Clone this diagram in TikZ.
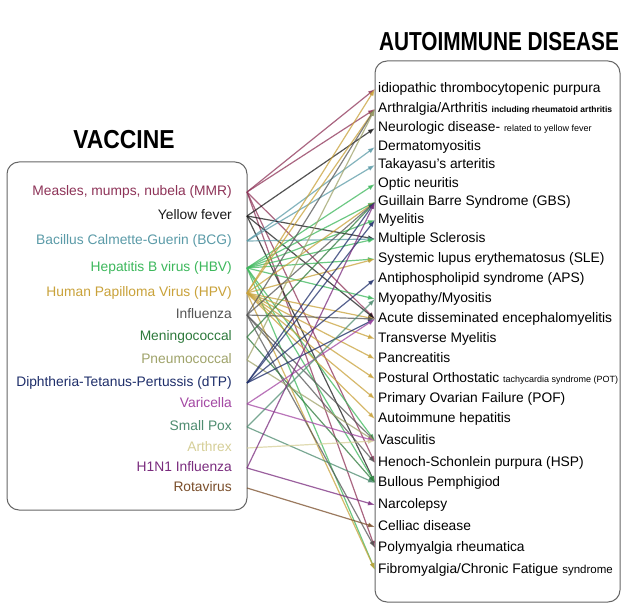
\documentclass[tikz,border=0pt]{standalone}
\usepackage{fontspec}
\setmainfont{Liberation Sans}
\usepackage{graphicx}
\usetikzlibrary{arrows.meta}

\definecolor{cmmr}{HTML}{8E3358}
\definecolor{cyf}{HTML}{1A1A1A}
\definecolor{cbcg}{HTML}{5B9BA8}
\definecolor{chbv}{HTML}{3DB85C}
\definecolor{chpv}{HTML}{C9A23A}
\definecolor{cflu}{HTML}{555555}
\definecolor{cmen}{HTML}{2E7A3C}
\definecolor{cpneu}{HTML}{9FA36A}
\definecolor{cdtp}{HTML}{1E2E6A}
\definecolor{cvari}{HTML}{A347A3}
\definecolor{cpox}{HTML}{4E8C70}
\definecolor{carx}{HTML}{D6CF98}
\definecolor{chini}{HTML}{7A2C7E}
\definecolor{crota}{HTML}{7A4E2A}

\begin{document}
\begin{tikzpicture}[x=1pt,y=-1pt,
    vac/.style={anchor=east,inner xsep=15pt,inner ysep=0pt,text height=10pt,text depth=3pt,font=\fontsize{13.8}{15}\selectfont},
    dis/.style={anchor=west,inner xsep=3pt,inner ysep=0pt,text height=10pt,text depth=3pt,font=\fontsize{13.8}{15}\selectfont},
    head/.style={font=\fontsize{26}{28}\selectfont\bfseries,inner sep=0pt},
    box/.style={draw=black!60,line width=1pt,rounded corners=12pt},
    edge/.style={-{Latex[length=7pt,width=5pt]},line width=1.2pt,opacity=0.75}]
    \useasboundingbox [fill=white] (0,0) rectangle (626,612);

    % titles and frames
    \node [head] (vt) at (124,140) {\scalebox{0.88}[1]{VACCINE}};
    \node [head] (dt) at (499,42) {\scalebox{0.8}[1]{AUTOIMMUNE DISEASE}};
    \draw [box] (7,162) rectangle (247,510);
    \draw [box] (375,61) rectangle (620,602);

    % vaccines
    \node [vac,text=cmmr] (mmr) at (247,192) {Measles, mumps, nubela (MMR)};
    \node [vac,text=cyf] (yf) at (247,216) {Yellow fever};
    \node [vac,text=cbcg] (bcg) at (247,241) {Bacillus Calmette-Guerin (BCG)};
    \node [vac,text=chbv] (hbv) at (247,268) {Hepatitis B virus (HBV)};
    \node [vac,text=chpv] (hpv) at (247,293) {Human Papilloma Virus (HPV)};
    \node [vac,text=cflu] (flu) at (247,315) {Influenza};
    \node [vac,text=cmen] (men) at (247,337) {Meningococcal};
    \node [vac,text=cpneu] (pneu) at (247,360) {Pneumococcal};
    \node [vac,text=cdtp] (dtp) at (247,383) {Diphtheria-Tetanus-Pertussis (dTP)};
    \node [vac,text=cvari] (vari) at (247,404) {Varicella};
    \node [vac,text=cpox] (pox) at (247,427) {Small Pox};
    \node [vac,text=carx] (arx) at (247,448) {Arthrex};
    \node [vac,text=chini] (hini) at (247,468) {H1N1 Influenza};
    \node [vac,text=crota] (rota) at (247,488) {Rotavirus};

    % diseases
    \node [dis] (itp) at (375,89) {idiopathic thrombocytopenic purpura};
    \node [dis] (arth) at (375,109) {Arthralgia/Arthritis {\fontsize{8.5}{9}\selectfont\bfseries including rheumatoid arthritis}};
    \node [dis] (neuro) at (375,128) {Neurologic disease- {\fontsize{9}{9}\selectfont related to yellow fever}};
    \node [dis] (derm) at (375,147) {Dermatomyositis};
    \node [dis] (taka) at (375,165) {Takayasu's arteritis};
    \node [dis] (optic) at (375,184) {Optic neuritis};
    \node [dis] (gbs) at (375,202) {Guillain Barre Syndrome (GBS)};
    \node [dis] (myel) at (375,220) {Myelitis};
    \node [dis] (ms) at (375,239) {Multiple Sclerosis};
    \node [dis] (sle) at (375,259) {Systemic lupus erythematosus (SLE)};
    \node [dis] (aps) at (375,279) {Antiphospholipid syndrome (APS)};
    \node [dis] (myop) at (375,299) {Myopathy/Myositis};
    \node [dis] (adem) at (375,319) {Acute disseminated encephalomyelitis};
    \node [dis] (tm) at (375,339) {Transverse Myelitis};
    \node [dis] (panc) at (375,359) {Pancreatitis};
    \node [dis] (pot) at (375,379) {Postural Orthostatic {\fontsize{9}{9}\selectfont tachycardia syndrome (POT)}};
    \node [dis] (pof) at (375,399) {Primary Ovarian Failure (POF)};
    \node [dis] (aih) at (375,419) {Autoimmune hepatitis};
    \node [dis] (vasc) at (375,441) {Vasculitis};
    \node [dis] (hsp) at (375,463) {Henoch-Schonlein purpura (HSP)};
    \node [dis] (bp) at (375,483) {Bullous Pemphigiod};
    \node [dis] (narc) at (375,505) {Narcolepsy};
    \node [dis] (cel) at (375,527) {Celliac disease};
    \node [dis] (pmr) at (375,548) {Polymyalgia rheumatica};
    \node [dis] (fib) at (375,570) {Fibromyalgia/Chronic Fatigue {\fontsize{11.5}{12}\selectfont syndrome}};

    % links
    \foreach \d in {itp,arth,adem,hsp,pmr} \draw [edge,cmmr] (mmr.east) to (\d.west);
    \foreach \d in {neuro,ms,adem,bp} \draw [edge,cyf] (yf.east) to (\d.west);
    \foreach \d in {derm,taka,ms} \draw [edge,cbcg] (bcg.east) to (\d.west);
    \foreach \d in {optic,gbs,myel,ms,sle,myop,vasc,bp,fib} \draw [edge,chbv] (hbv.east) to (\d.west);
    \foreach \d in {itp,arth,gbs,sle,adem,tm,panc,pot,pof,aih,fib} \draw [edge,chpv] (hpv.east) to (\d.west);
    \foreach \d in {arth,gbs,adem,vasc,hsp,pmr} \draw [edge,cflu] (flu.east) to (\d.west);
    \foreach \d in {gbs,bp} \draw [edge,cmen] (men.east) to (\d.west);
    \foreach \d in {arth,vasc} \draw [edge,cpneu] (pneu.east) to (\d.west);
    \foreach \d in {gbs,myel,aps,adem} \draw [edge,cdtp] (dtp.east) to (\d.west);
    \foreach \d in {adem,vasc} \draw [edge,cvari] (vari.east) to (\d.west);
    \foreach \d in {myop,bp} \draw [edge,cpox] (pox.east) to (\d.west);
    \draw [edge,carx] (arx.east) to (vasc.west);
    \foreach \d in {gbs,narc} \draw [edge,chini] (hini.east) to (\d.west);
    \draw [edge,crota] (rota.east) to (cel.west);
\end{tikzpicture}
\end{document}
